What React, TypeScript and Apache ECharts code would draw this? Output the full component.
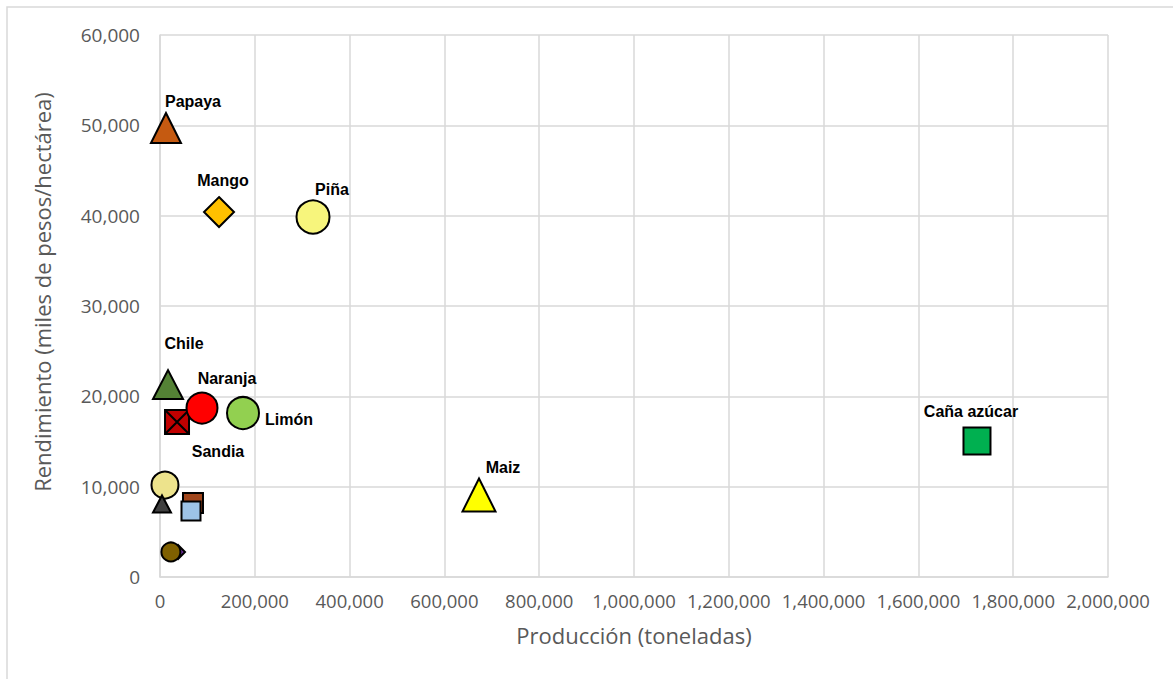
import React, { useEffect, useRef } from "react";
import * as echarts from "echarts";

// Crops (drawing order: back to front); empty label = unlabeled point
const cultivos = ["", "", "", "", "", "", "Sandia", "Naranja", "Limón", "Chile", "Papaya", "Mango", "Piña", "Maiz", "Caña azúcar"];
// Production (toneladas)
const produccion = [38000, 23000, 69600, 65400, 10500, 4200, 35900, 88600, 175100, 16900, 12600, 124500, 322800, 673000, 1723600];
// Yield (miles de pesos/hectárea)
const rendimiento = [2770, 2770, 8190, 7300, 10180, 8080, 17160, 18700, 18150, 21300, 49700, 40400, 39850, 9080, 15050];

const xTicks = { min: 0, max: 2000000, interval: 200000 };
const yTicks = { min: 0, max: 60000, interval: 10000 };

const sandiaPath = "path://M0,0L20,0L20,20L0,20Z M0,0L20,20 M20,0L0,20";

// marker styles per point (same order)
const markerStyle = [
  { symbol: "diamond", size: [14, 14], color: "#7030A0" },
  { symbol: "circle", size: [19, 19], color: "#7F6000" },
  { symbol: "rect", size: [20, 20], color: "#A0461C" },
  { symbol: "rect", size: [19, 19], color: "#9DC3E6" },
  { symbol: "circle", size: [27, 27], color: "#EDE38C" },
  { symbol: "triangle", size: [18, 17], color: "#404040" },
  { symbol: sandiaPath, size: [24, 24], color: "#C00000" },
  { symbol: "circle", size: [31, 31], color: "#FF0000" },
  { symbol: "circle", size: [32, 32], color: "#92D050" },
  { symbol: "triangle", size: [30, 29], color: "#548235" },
  { symbol: "triangle", size: [30, 30], color: "#C55A11" },
  { symbol: "diamond", size: [30, 30], color: "#FFC000" },
  { symbol: "circle", size: [33, 33], color: "#F7F57C" },
  { symbol: "triangle", size: [33, 33], color: "#FFFF00" },
  { symbol: "rect", size: [27, 27], color: "#00B050" },
];

// label offsets from marker centre (px)
const labelOffset = [
  [0, 0], [0, 0], [0, 0], [0, 0], [0, 0], [0, 0],
  [41, 30], [25, -30], [46, 6], [16, -41], [27, -27], [4, -32], [19, -28], [24, -27], [-6, -30],
];

export default function App() {
  const ref = useRef<HTMLDivElement>(null);

  useEffect(() => {
    if (!ref.current) return;
    const chart = echarts.init(ref.current, undefined, { renderer: "svg" });

    const data = cultivos.map((name, i) => ({
      name,
      value: [produccion[i], rendimiento[i]],
      symbol: markerStyle[i].symbol,
      symbolSize: markerStyle[i].size,
      itemStyle: { color: markerStyle[i].color, borderColor: "#000", borderWidth: 2, opacity: 1 },
      label: {
        show: name !== "",
        formatter: name,
        position: "inside",
        offset: labelOffset[i],
        color: "#000",
        opacity: 1,
        fontFamily: "'Liberation Sans', Arial, sans-serif",
        fontWeight: "bold",
        fontSize: 16,
      },
    }));

    const fmt = (v: number) => v.toLocaleString("en-US");
    const axisText = { color: "#595959", fontFamily: "'Open Sans', sans-serif", fontSize: 19 };
    const titleText = { color: "#595959", fontFamily: "'Open Sans', sans-serif", fontSize: 22 };

    chart.setOption({
      animation: false,
      backgroundColor: "#fff",
      graphic: [
        {
          type: "rect",
          shape: { x: 7, y: 7, width: 1300, height: 800 },
          style: { fill: "none", stroke: "#D9D9D9", lineWidth: 1.5 },
          silent: true,
        },
      ],
      grid: { left: 160, right: 65, top: 35, bottom: 102 },
      xAxis: {
        type: "value",
        min: xTicks.min,
        max: xTicks.max,
        interval: xTicks.interval,
        name: "Producción (toneladas)",
        nameLocation: "middle",
        nameGap: 47,
        nameTextStyle: titleText,
        axisLine: { show: true, lineStyle: { color: "#D9D9D9", width: 1.5 } },
        axisTick: { show: false },
        splitLine: { show: true, lineStyle: { color: "#D9D9D9", width: 1.5 } },
        axisLabel: { ...axisText, fontSize: 18.5, margin: 14, formatter: fmt },
      },
      yAxis: {
        type: "value",
        min: yTicks.min,
        max: yTicks.max,
        interval: yTicks.interval,
        name: "Rendimiento (miles de pesos/hectárea)",
        nameLocation: "middle",
        nameGap: 107,
        nameTextStyle: { ...titleText, padding: [0, 0, 0, 28] },
        axisLine: { show: true, lineStyle: { color: "#D9D9D9", width: 1.5 } },
        axisTick: { show: false },
        splitLine: { show: true, lineStyle: { color: "#D9D9D9", width: 1.5 } },
        axisLabel: { ...axisText, margin: 20, formatter: fmt },
      },
      series: [
        {
          type: "scatter",
          data,
          itemStyle: { opacity: 1 },
          emphasis: { disabled: true },
        },
      ],
    });

    return () => chart.dispose();
  }, []);

  return (
    <div
      ref={ref}
      style={{ position: "fixed", left: 0, top: 0, width: 1173, height: 679, background: "#fff" }}
    />
  );
}
